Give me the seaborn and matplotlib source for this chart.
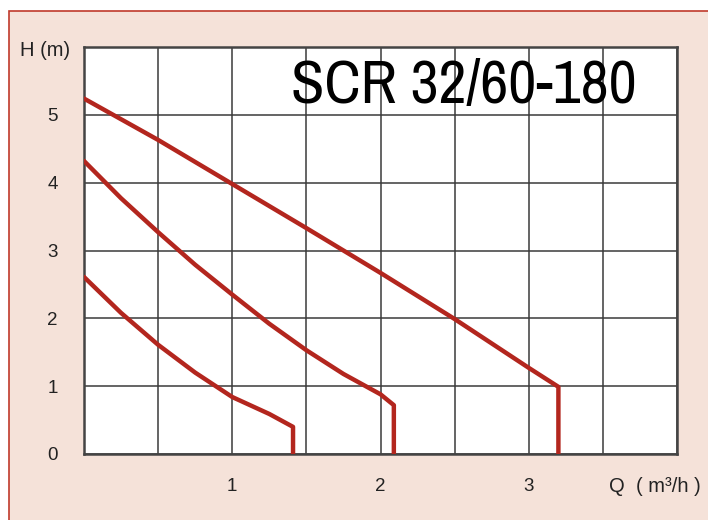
import pandas as pd
import matplotlib.pyplot as plt
import seaborn as sns
from matplotlib import font_manager
from matplotlib.patches import Rectangle

# pump curves (Q in m3/h, H in m)
q_high = [0.0, 0.5, 1.0, 1.5, 2.0, 2.5, 3.0, 3.2, 3.2]
h_high = [5.24, 4.63, 3.98, 3.33, 2.67, 1.99, 1.27, 0.99, 0.0]

q_mid = [0.0, 0.25, 0.5, 0.75, 1.0, 1.25, 1.5, 1.75, 2.0, 2.09, 2.09]
h_mid = [4.32, 3.77, 3.27, 2.79, 2.35, 1.92, 1.53, 1.18, 0.88, 0.72, 0.0]

q_low = [0.0, 0.25, 0.5, 0.75, 1.0, 1.25, 1.41, 1.41]
h_low = [2.61, 2.08, 1.61, 1.20, 0.84, 0.59, 0.40, 0.0]

x_ticks = [1, 2, 3]
y_ticks = [0, 1, 2, 3, 4, 5]
title = "SCR 32/60-180"

df = pd.concat([
    pd.DataFrame({"Q": q_high, "H": h_high, "speed": "high"}),
    pd.DataFrame({"Q": q_mid, "H": h_mid, "speed": "mid"}),
    pd.DataFrame({"Q": q_low, "H": h_low, "speed": "low"}),
])

sns.set_style("white")
plt.rcParams['font.family'] = ['Liberation Sans', 'DejaVu Sans']

# the title is in a narrow face; pick a regular-weight one if the system has it
narrow_file = None
for f in font_manager.fontManager.ttflist:
    if ("Narrow" in f.name or "Condensed" in f.name) and f.style == "normal":
        w = f.weight if isinstance(f.weight, int) else {"normal": 400, "regular": 400}.get(f.weight, 700)
        if w <= 400:
            narrow_file = f.fname
            break

bg = "#f5e2d9"
red = "#b3261e"

fig = plt.figure(figsize=(7.08, 5.2), dpi=100, facecolor="white")
fig.patches.append(Rectangle((9 / 708, -0.1), 1.2, 1.1 - 11 / 520,
                             transform=fig.transFigure, facecolor=bg,
                             edgecolor="#c0392b", linewidth=1.2, zorder=-10))

ax = fig.add_axes([84 / 708, 1 - 454 / 520, (677 - 84) / 708, (454 - 47) / 520])
ax.set_facecolor("white")

sns.lineplot(data=df, x="Q", y="H", hue="speed", units="speed", estimator=None,
             sort=False, palette=[red, red, red], linewidth=3.2, legend=False, ax=ax,
             zorder=3)

ax.set_xlim(0, 4)
ax.set_ylim(0, 6)
ax.set_xticks([i * 0.5 for i in range(9)], minor=True)
ax.set_xticks(x_ticks)
ax.set_yticks(y_ticks + [6], labels=[str(t) for t in y_ticks] + [""])
ax.grid(True, which="both", axis="x", color="#3a3a3a", linewidth=1.1)
ax.grid(True, which="major", axis="y", color="#3a3a3a", linewidth=1.1)
ax.tick_params(axis="both", which="both", length=0, labelsize=13.5, colors="#222222")
ax.tick_params(axis="y", pad=19)
ax.tick_params(axis="x", pad=17)
for s in ax.spines.values():
    s.set_color("#444444")
    s.set_linewidth(1.8)
ax.set_xlabel("")
ax.set_ylabel("")

if narrow_file is not None:
    fp = font_manager.FontProperties(fname=narrow_file, size=44)
    ax.text(0.641, 0.862, title, transform=ax.transAxes, ha="center", va="baseline",
            fontproperties=fp, color="black")
else:
    ax.text(0.641, 0.862, title, transform=ax.transAxes, ha="center", va="baseline",
            fontsize=37, color="black")

fig.text(20 / 708, 1 - 51 / 520, "H (m)", ha="left", va="center", fontsize=14.5,
         color="#222222")
fig.text(609 / 708, 1 - 487 / 520, "Q  ( m³/h )", ha="left", va="center",
         fontsize=14.5, color="#222222")

fig.savefig("out.png", dpi=100, facecolor=fig.get_facecolor())
